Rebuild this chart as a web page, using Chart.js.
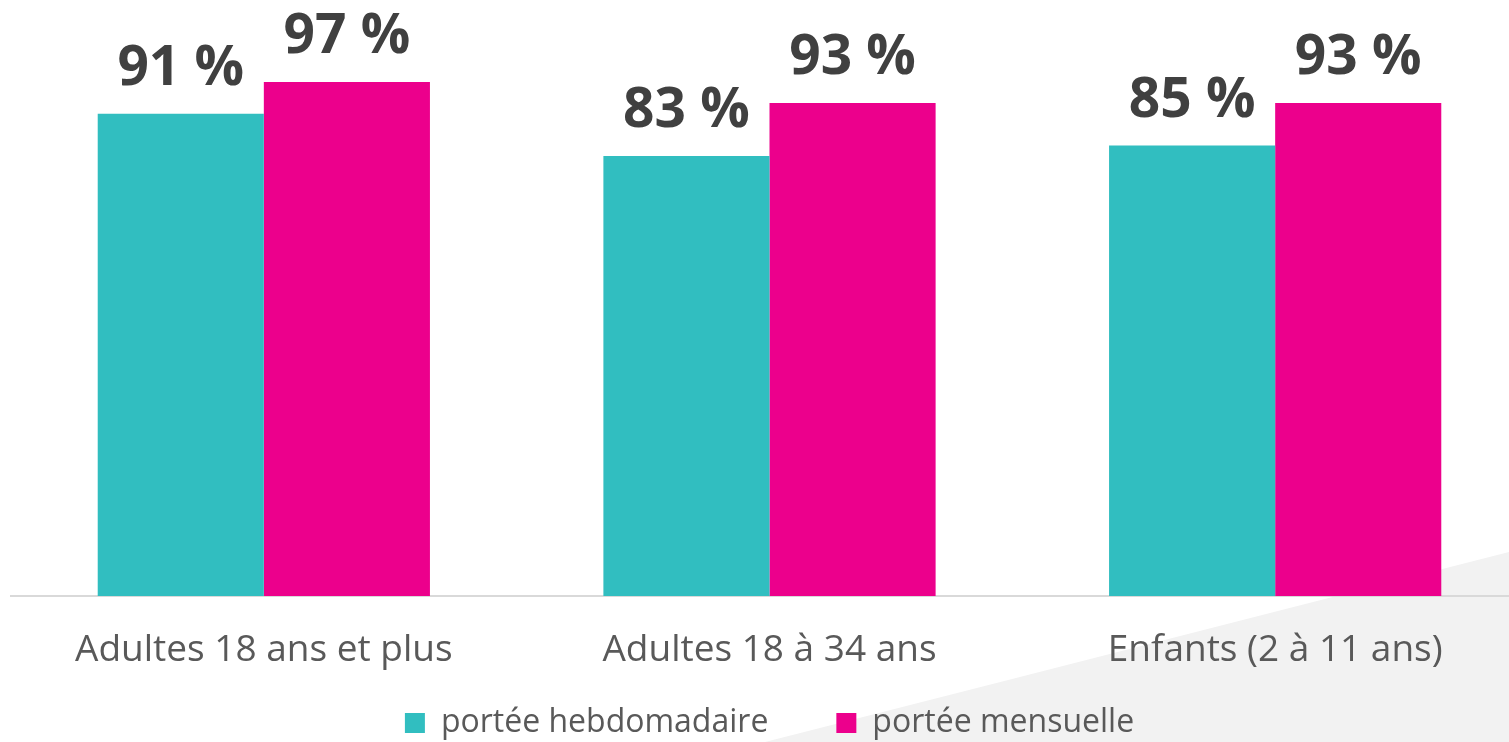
<!DOCTYPE html>
<html>
<head>
<meta charset="utf-8">
<script src="https://cdn.jsdelivr.net/npm/chart.js@4"></script>
<style>
  html, body { margin: 0; padding: 0; width: 1509px; height: 742px; overflow: hidden; background: #fff; }
  #deco { position: absolute; left: 0; top: 0; width: 1509px; height: 742px; background: #f2f2f2;
          clip-path: polygon(765px 742px, 1509px 552px, 1509px 742px); }
  #wrap { position: absolute; left: 0; top: 0; width: 1540px; height: 749px; }
</style>
</head>
<body>
<div id="deco"></div>
<div id="wrap"><canvas id="chart"></canvas></div>
<script>
// catégories et séries
const categories = ['Adultes 18 ans et plus', 'Adultes 18 à 34 ans', 'Enfants (2 à 11 ans)'];
const hebdo = [91, 83, 85];
const mensuelle = [97, 93, 93];
const seriesNames = ['portée hebdomadaire', 'portée mensuelle'];

// étiquettes au-dessus des barres
const barLabels = {
    id: 'barLabels',
    afterDatasetsDraw(chart) {
        const ctx = chart.ctx;
        ctx.save();
        ctx.font = 'bold 55px "Open Sans"';
        ctx.fillStyle = '#404040';
        ctx.textAlign = 'center';
        ctx.textBaseline = 'alphabetic';
        chart.data.datasets.forEach((ds, i) => {
            chart.getDatasetMeta(i).data.forEach((bar, j) => {
                ctx.fillText(ds.data[j] + ' %', bar.x, bar.y - 29);
            });
        });
        ctx.restore();
    }
};

new Chart(document.getElementById('chart'), {
    type: 'bar',
    data: {
        labels: categories,
        datasets: [
            { label: seriesNames[0], data: hebdo, backgroundColor: '#31bec0' },
            { label: seriesNames[1], data: mensuelle, backgroundColor: '#ec008c' }
        ]
    },
    options: {
        responsive: true,
        maintainAspectRatio: false,
        animation: false,
        categoryPercentage: 0.657,
        barPercentage: 1.0,
        layout: { padding: { top: 66, left: 11, right: 12, bottom: 0 } },
        plugins: {
            tooltip: { enabled: false },
            legend: {
                position: 'bottom',
                labels: {
                    boxWidth: 20,
                    boxHeight: 20,
                    padding: 68,
                    color: '#595959',
                    font: { family: '"Open Sans"', size: 32 }
                }
            }
        },
        scales: {
            x: {
                grid: { display: false, drawTicks: false },
                border: { display: true, color: '#d9d9d9', width: 2 },
                // mirror + padding négatif : libellés sous l'axe sans découpage
                ticks: { color: '#595959', font: { family: '"Open Sans"', size: 37 }, mirror: true, padding: -77 },
                afterFit(scale) { scale.height = 43; }
            },
            y: {
                display: false,
                min: 0,
                max: 100
            }
        }
    },
    plugins: [barLabels]
});
</script>
</body>
</html>
